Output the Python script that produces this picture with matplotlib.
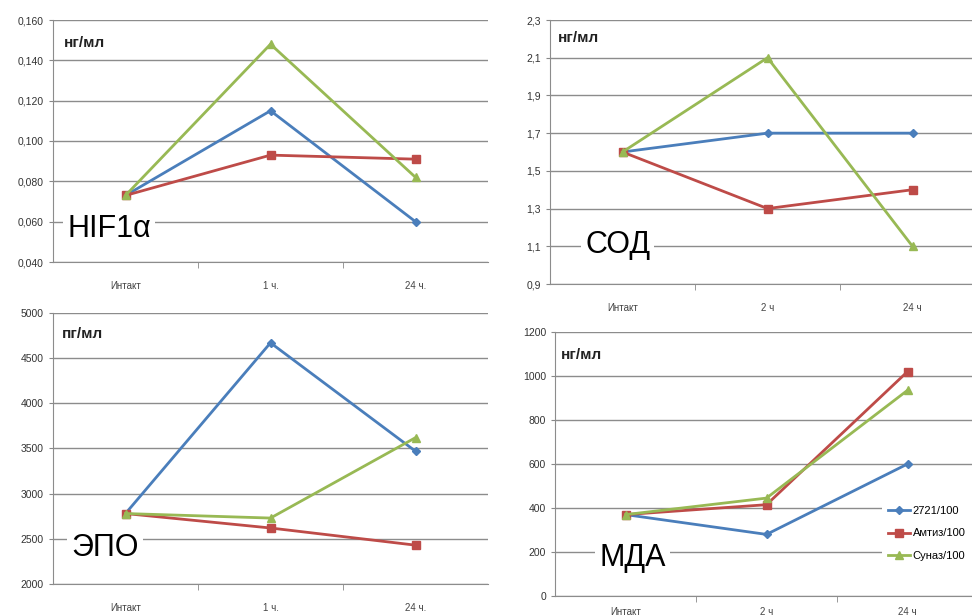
"""HIF1a / СОД / ЭПО / МДА — 4 panels, Excel-style line charts"""
import matplotlib
matplotlib.use('Agg')
import matplotlib.pyplot as plt
from matplotlib.ticker import FuncFormatter

plt.rcParams['font.family'] = ['Liberation Sans', 'DejaVu Sans']

series_names = ['2721/100', 'Амтиз/100', 'Суназ/100']
colors = ['#4a7ebb', '#be4b48', '#98b954']
markers = ['D', 's', '^']
msizes = [4, 6, 6]

cats_1h = ['Интакт', '1 ч.', '24 ч.']
cats_2h = ['Интакт', '2 ч', '24 ч']

hif_vals = [[0.073, 0.115, 0.060],
            [0.073, 0.093, 0.091],
            [0.073, 0.148, 0.082]]
sod_vals = [[1.6, 1.7, 1.7],
            [1.6, 1.3, 1.4],
            [1.6, 2.1, 1.1]]
epo_vals = [[2780, 4670, 3470],
            [2780, 2620, 2430],
            [2780, 2730, 3620]]
mda_vals = [[370, 280, 600],
            [370, 415, 1020],
            [370, 445, 935]]

hif_ticks = [0.040, 0.060, 0.080, 0.100, 0.120, 0.140, 0.160]
sod_ticks = [0.9, 1.1, 1.3, 1.5, 1.7, 1.9, 2.1, 2.3]
epo_ticks = [2000, 2500, 3000, 3500, 4000, 4500, 5000]
mda_ticks = [0, 200, 400, 600, 800, 1000, 1200]

W, H = 972, 616
fig = plt.figure(figsize=(W / 100, H / 100), dpi=100)


def px_axes(x0, x1, ytop, ybot):
    return fig.add_axes([x0 / W, 1 - ybot / H, (x1 - x0) / W, (ybot - ytop) / H])


def panel(ax, vals, cats, ticks, fmt):
    for v, c, m, s, name in zip(vals, colors, markers, msizes, series_names):
        ax.plot(range(len(cats)), v, color=c, marker=m, markersize=s, lw=2,
                markeredgecolor=c, label=name, zorder=3)
    ax.set_xlim(-0.5, len(cats) - 0.5)
    ax.set_ylim(ticks[0], ticks[-1])
    ax.set_yticks(ticks)
    ax.yaxis.set_major_formatter(FuncFormatter(fmt))
    ax.set_xticks(range(len(cats)))
    ax.set_xticklabels(cats)
    ax.set_xticks([0.5, 1.5], minor=True)
    ax.tick_params(axis='x', which='major', length=0, labelsize=7, colors='#444444', pad=14)
    ax.tick_params(axis='x', which='minor', length=4, color='#888888', direction='out')
    ax.tick_params(axis='y', length=3, color='#888888', labelsize=7.5, colors='#333333')
    ax.grid(axis='y', color='#8c8c8c', lw=1)
    ax.set_axisbelow(True)
    for s in ['top', 'right']:
        ax.spines[s].set_visible(False)
    for s in ['left', 'bottom']:
        ax.spines[s].set_color('#8c8c8c')


def big_label(x, y, txt):
    fig.text(x / W, 1 - y / H, txt, fontsize=22, va='center', ha='left',
             bbox=dict(facecolor='white', edgecolor='none', pad=3), zorder=5)


def unit_label(x, y, txt):
    fig.text(x / W, 1 - y / H, txt, fontsize=11, fontweight='bold', va='center',
             ha='left', color='#222222')


# top-left: HIF1a
ax1 = px_axes(53, 488, 20, 262)
panel(ax1, hif_vals, cats_1h, hif_ticks, lambda v, p: f'{v:.3f}'.replace('.', ','))
# top-right: СОД
ax2 = px_axes(550, 985, 20, 284)
panel(ax2, sod_vals, cats_2h, sod_ticks, lambda v, p: f'{v:.1f}'.replace('.', ','))
# bottom-left: ЭПО
ax3 = px_axes(53, 488, 313, 584)
panel(ax3, epo_vals, cats_1h, epo_ticks, lambda v, p: f'{v:.0f}')
# bottom-right: МДА (labels sit right at the bottom edge)
ax4 = px_axes(555, 978, 332, 596)
panel(ax4, mda_vals, cats_2h, mda_ticks, lambda v, p: f'{v:.0f}')
ax4.tick_params(axis='x', which='major', pad=8)

leg = ax4.legend(loc='upper left', bbox_to_anchor=(876 / W, 1 - 494 / H),
                 bbox_transform=fig.transFigure, fontsize=8, frameon=True,
                 handlelength=2.0, labelspacing=1.1, borderpad=0.6, handletextpad=0.2)
leg.get_frame().set_edgecolor('none')
leg.get_frame().set_facecolor('white')
leg.get_frame().set_alpha(1)

big_label(67, 229, 'HIF1α')
big_label(585, 245, 'СОД')
big_label(71, 548, 'ЭПО')
big_label(599, 558, 'МДА')

unit_label(64, 43, 'нг/мл')
unit_label(558, 38, 'нг/мл')
unit_label(62, 334, 'пг/мл')
unit_label(561, 355, 'нг/мл')

fig.savefig('out.png', dpi=100)
